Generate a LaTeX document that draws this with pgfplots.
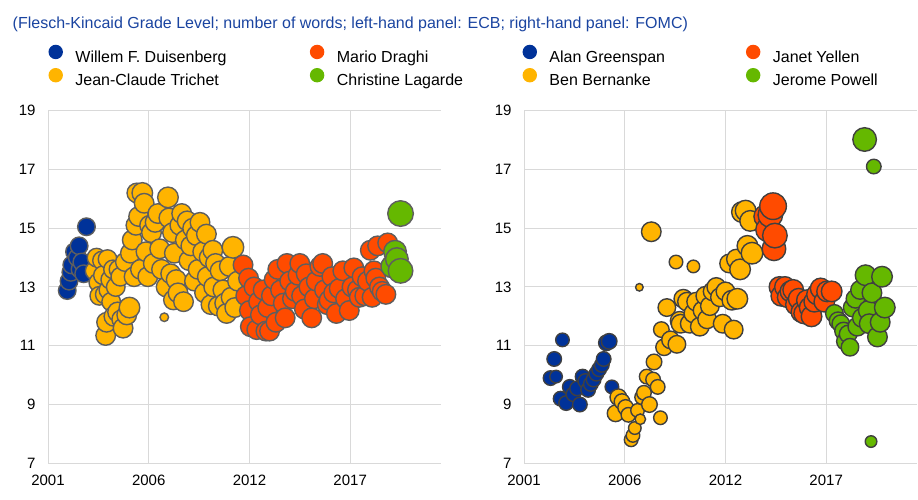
\documentclass[border=0pt]{standalone}
\usepackage{pgfplots}
\pgfplotsset{compat=1.18}
\usepackage{fontspec}
\setmainfont{Liberation Sans}
\definecolor{ecbblue}{HTML}{003299}
\definecolor{ecbyellow}{HTML}{FFB400}
\definecolor{ecborange}{HTML}{FF4B00}
\definecolor{ecbgreen}{HTML}{65B800}
\definecolor{gridgray}{HTML}{D9D9D9}
\definecolor{edgeL}{HTML}{5E5E5E}
\definecolor{edgeR}{HTML}{404040}
\definecolor{titleblue}{HTML}{1A44A0}

\pgfplotstableread{
x y r
2002.05 12.88 9.5
2002.15 13.20 9.5
2002.25 13.50 9.5
2002.30 13.75 9.5
2002.45 14.20 9.5
2002.60 14.00 9.5
2002.70 14.40 9.5
2002.75 13.60 9.5
2002.85 13.85 9.5
2002.95 13.45 9.5
2003.10 15.05 9.5
}\duis

\pgfplotstableread{
x y r
2003.55 13.55 10
2003.65 14.00 10
2003.75 13.15 10
2003.80 12.70 10
2003.95 13.90 10
2004.00 13.40 10
2004.10 12.75 10
2004.15 11.35 10.5
2004.20 11.80 10.5
2004.25 13.95 10
2004.30 12.90 10
2004.40 13.25 10
2004.45 12.50 10
2004.55 13.60 10
2004.60 12.00 10.5
2004.70 13.00 10
2004.80 12.15 10.5
2004.85 13.60 10
2004.95 13.35 10
2005.00 11.90 10
2005.10 11.60 10.5
2005.20 13.85 10
2005.30 12.05 10.5
2005.45 12.30 11
2005.50 14.15 10.5
2005.60 14.60 10.5
2005.70 13.35 10.5
2005.80 15.10 10.5
2005.85 16.20 10.5
2005.95 15.40 10.5
2006.05 13.60 10.5
2006.15 16.20 11
2006.25 15.85 10.5
2006.35 14.20 10.5
2006.45 13.35 10.5
2006.55 15.10 10.5
2006.65 14.85 10.5
2006.75 13.80 10.5
2006.85 15.20 10.5
2007.00 15.50 10.5
2007.10 14.30 10.5
2007.20 13.60 10.5
2007.35 11.97 5
2007.45 13.00 10.5
2007.55 16.05 11
2007.60 15.35 10.5
2007.70 13.45 10.5
2007.80 14.85 10.5
2007.85 12.56 10.5
2007.90 14.15 10.5
2008.00 13.25 10.5
2008.10 12.80 10.5
2008.20 15.10 10.5
2008.30 15.50 10.5
2008.40 12.50 10.5
2008.50 14.60 10.5
2008.60 15.25 10.5
2008.70 13.90 10.5
2008.80 14.40 10.5
2008.90 15.00 10.5
2009.00 13.20 10.5
2009.10 14.75 10.5
2009.20 13.60 10.5
2009.30 15.20 10.5
2009.45 14.20 10.5
2009.55 12.80 10.5
2009.65 14.80 10.5
2009.70 13.35 10.5
2009.80 14.00 10.5
2009.90 12.40 10.5
2010.00 14.25 10.5
2010.05 13.00 10.5
2010.15 13.80 10.5
2010.30 12.35 10.5
2010.40 13.55 10.5
2010.55 12.90 10.5
2010.65 12.45 10.5
2010.75 12.10 10.5
2010.90 13.70 10.5
2011.00 12.65 10.5
2011.10 14.35 11.5
2011.20 12.30 10.5
2011.35 13.20 10.5
}\trich

\pgfplotstableread{
x y r
2011.65 13.75 10.5
2011.80 12.70 10.5
2011.95 13.30 10.5
2012.00 12.20 10.5
2012.05 11.65 10.5
2012.25 13.00 10.5
2012.40 11.55 10.5
2012.50 12.50 10.5
2012.60 12.05 10.5
2012.75 12.90 10.5
2012.90 11.50 10.5
2013.00 12.30 10.5
2013.10 11.50 10.5
2013.20 12.70 10.5
2013.35 13.25 10.5
2013.45 11.80 10.5
2013.55 13.60 10.5
2013.70 12.90 10.5
2013.85 12.45 10.5
2013.95 11.95 10.5
2014.05 13.80 10.5
2014.20 13.20 10.5
2014.35 12.60 10.5
2014.50 12.85 10.5
2014.65 13.40 10.5
2014.75 13.80 10.5
2014.85 12.70 10.5
2015.00 12.25 10.5
2015.10 13.45 10.5
2015.25 13.00 10.5
2015.40 11.95 10.5
2015.55 12.60 10.5
2015.65 13.20 10.5
2015.85 13.70 10.5
2016.00 13.80 10.5
2016.10 12.90 10.5
2016.25 12.40 10.5
2016.35 12.55 10.5
2016.50 13.35 10.5
2016.60 12.80 10.5
2016.75 12.10 10.5
2016.90 12.95 10.5
2017.10 13.55 10.5
2017.25 12.60 10.5
2017.45 12.20 10.5
2017.60 13.00 10.5
2017.70 13.65 10.5
2017.90 12.90 10.5
2018.00 12.65 10.5
2018.15 13.35 10.5
2018.30 12.70 10.5
2018.45 13.20 10.5
2018.60 14.25 10.5
2018.70 12.65 10.5
2018.80 13.55 10.5
2018.90 13.30 10.5
2019.00 14.40 10.5
2019.10 13.00 10.5
2019.25 12.85 10.5
2019.45 12.75 10.5
2019.55 14.50 10.5
}\drag

\pgfplotstableread{
x y r
2019.80 13.70 12
2019.95 14.20 12
2020.05 13.95 12
2020.25 15.50 13.5
2020.25 13.55 13
}\laga

\pgfplotstableread{
x y r
2002.45 9.90 8
2002.65 10.55 8
2002.75 9.95 7
2003.00 9.20 8
2003.10 11.20 7.5
2003.30 9.05 8
2003.50 9.60 8
2003.70 9.35 8
2003.90 9.55 8
2004.05 9.00 8
2004.20 9.95 8
2004.35 9.80 8
2004.50 9.50 8
2004.65 9.70 8
2004.80 9.85 8
2004.95 10.05 8
2005.10 10.20 8
2005.25 10.35 8
2005.35 10.55 8
2005.50 11.10 8.5
2005.65 11.15 8.5
2005.80 9.60 7.5
}\green

\pgfplotstableread{
x y r
2006.00 8.70 9
2006.15 9.25 9
2006.35 9.10 8.5
2006.55 8.90 8.5
2006.70 8.65 8
2006.85 7.80 7.5
2006.95 7.95 7.5
2007.05 8.20 7
2007.20 8.80 7.5
2007.30 12.99 4.5
2007.35 8.50 6
2007.45 9.25 8
2007.55 9.40 8
2007.70 9.95 8
2007.85 9.00 8.5
2007.95 14.88 10.5
2008.05 9.85 8
2008.10 10.45 8.5
2008.30 9.60 8
2008.45 8.55 7.5
2008.50 11.55 8.5
2008.65 10.95 9
2008.80 12.30 9.5
2009.00 11.20 9.5
2009.30 13.85 7.5
2009.35 11.05 9.5
2009.50 11.85 10
2009.55 11.75 10
2009.70 12.60 10
2009.90 12.50 10
2010.05 11.75 10
2010.25 13.70 7
2010.25 12.10 10
2010.40 12.50 10
2010.60 11.65 10
2010.75 12.20 10
2010.90 12.70 10
2011.00 11.90 10
2011.15 12.35 10
2011.30 12.85 10
2011.50 13.00 10
2011.70 12.65 10
2011.85 11.75 10
2012.00 12.85 10
2012.20 13.80 10
2012.35 12.55 10.5
2012.45 11.55 10
2012.60 13.95 10.5
2012.65 12.60 11
2012.80 13.60 11
2012.90 15.55 11
2013.10 15.60 11
2013.20 14.40 11
2013.35 15.25 11
2013.45 14.15 11.5
}\bern

\pgfplotstableread{
x y r
2014.20 15.40 12.5
2014.30 14.95 12.5
2014.45 15.45 13
2014.60 15.75 14
2014.65 14.30 12.5
2014.70 14.75 13
2014.95 13.00 11
2015.05 12.70 11
2015.25 13.00 11
2015.40 12.65 11
2015.55 12.85 11
2015.70 12.90 11
2015.85 12.40 11
2016.00 12.60 11
2016.15 12.15 11
2016.30 12.10 11
2016.45 12.55 11
2016.60 12.30 11
2016.70 12.00 11
2016.85 12.50 11
2017.00 12.75 11
2017.20 12.95 11
2017.40 12.50 11
2017.55 12.85 11
2017.80 12.85 11
}\yell

\pgfplotstableread{
x y r
2017.95 12.10 9.5
2018.15 11.85 9.5
2018.30 11.75 9.5
2018.45 11.50 9.5
2018.55 11.15 9.5
2018.70 11.40 9.5
2018.80 10.95 9.5
2018.95 12.30 10
2019.10 12.60 10
2019.20 11.65 10
2019.35 12.90 10
2019.45 11.95 10
2019.60 18.02 12.5
2019.65 13.40 11
2019.80 12.20 10.5
2019.85 11.75 10.5
2019.95 7.74 6.5
2020.00 12.80 10.5
2020.10 17.10 8
2020.30 11.30 10.5
2020.45 11.80 10.5
2020.55 13.35 11
2020.70 12.30 11
}\powe

\pgfplotsset{
  bub/.style 2 args={scatter, only marks, mark=*, line width=1.4pt,
    scatter/use mapped color={draw=#1, fill=#2},
    visualization depends on={\thisrow{r} \as \msz},
    scatter/@pre marker code/.append style={/tikz/mark size=\msz-0.7},
    legend image code/.code={\fill[#2] (6.5pt,5.5pt) circle (6.5pt);}},
  panel/.style={scale only axis, width=393pt, height=352.6pt, anchor=south west,
    xmin=2001, xmax=2022.46, ymin=7, ymax=19,
    xtick={2001,2006.5,2012,2017.5}, xticklabels={2001,2006,2012,2017},
    ytick={7,9,11,13,15,17,19},
    grid=major, grid style={draw=gridgray, line width=1pt},
    axis line style={draw=none}, major tick length=0pt,
    tick label style={font=\fontsize{15}{18}\selectfont, text=black},
    /pgf/number format/assume math mode=true,
    yticklabel style={xshift=-9pt}, xticklabel style={yshift=-8pt},
    clip=false,
    legend columns=2, transpose legend,
    legend cell align=left,
    legend style={draw=none, fill=none, font=\fontsize{16}{19}\selectfont,
      anchor=north west, inner sep=0pt, outer sep=0pt, row sep=4pt,
      nodes={inner sep=0pt},
      /tikz/every odd column/.append style={column sep=12.5pt}},
  }
}

\begin{document}
\begin{tikzpicture}
\useasboundingbox (0,0) rectangle (918pt,500pt);
\node[anchor=base west, text=titleblue, font=\fontsize{16}{19}\selectfont, inner sep=0pt] at (12.5pt,471pt)
  {(Flesch-Kincaid Grade Level; number of words; left-hand panel: ECB; right-hand panel: FOMC)};

\begin{axis}[panel, at={(48pt,36.7pt)},
  legend style={at={(axis description cs:0.0013,1.187)}}]
\addplot[bub={edgeL}{ecbblue}] table {\duis};
\addlegendentry{\makebox[234.5pt][l]{Willem F. Duisenberg}}
\addplot[bub={edgeL}{ecbyellow}] table {\trich};
\addlegendentry{\makebox[234.5pt][l]{Jean-Claude Trichet}}
\addplot[bub={edgeL}{ecborange}] table {\drag};
\addlegendentry{Mario Draghi}
\addplot[bub={edgeL}{ecbgreen}] table {\laga};
\addlegendentry{Christine Lagarde}
\end{axis}

\begin{axis}[panel, at={(524pt,36.7pt)},
  legend style={at={(axis description cs:-0.0036,1.187)}}]
\addplot[bub={edgeR}{ecbblue}] table {\green};
\addlegendentry{\makebox[196.5pt][l]{Alan Greenspan}}
\addplot[bub={edgeR}{ecbyellow}] table {\bern};
\addlegendentry{\makebox[196.5pt][l]{Ben Bernanke}}
\addplot[bub={edgeR}{ecborange}] table {\yell};
\addlegendentry{Janet Yellen}
\addplot[bub={edgeR}{ecbgreen}] table {\powe};
\addlegendentry{Jerome Powell}
\end{axis}
\end{tikzpicture}
\end{document}
